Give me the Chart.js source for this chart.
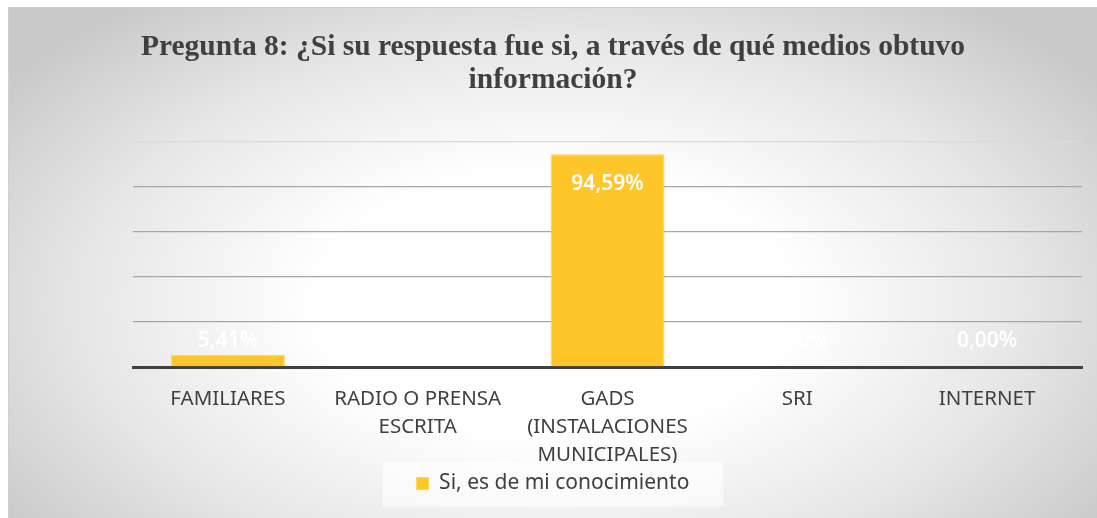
<!DOCTYPE html>
<html>
<head>
<meta charset="utf-8">
<script src="https://cdn.jsdelivr.net/npm/chart.js@4"></script>
<style>
  html, body { margin: 0; padding: 0; background: #fff; }
  #box {
    position: absolute; left: 8px; top: 7px; width: 1088px; height: 510px;
    border: 1px solid #cfcfcf;
    background: radial-gradient(ellipse 62% 75% at 50% 58%, #ffffff 35%, #e6e6e6 70%, #c9c9c9 100%);
  }
</style>
</head>
<body>
<div id="box"><canvas id="chart"></canvas></div>
<script>
  const categories = [
    'FAMILIARES',
    ['RADIO O PRENSA', 'ESCRITA'],
    ['GADS', '(INSTALACIONES', 'MUNICIPALES)'],
    'SRI',
    'INTERNET'
  ];
  const values = [5.41, 0, 94.59, 0, 0];
  const seriesName = 'Si, es de mi conocimiento';
  const titleLines = ['Pregunta 8: ¿Si su respuesta fue si, a través de qué medios obtuvo', 'información?'];

  const barColor = '#FFC629';
  const textFont = "'Noto Sans', sans-serif";

  // labels like Excel: inside end, or above when the bar is short
  const barLabels = {
    id: 'barLabels',
    afterDatasetsDraw(chart) {
      const ctx = chart.ctx;
      const meta = chart.getDatasetMeta(0);
      const base = chart.scales.y.getPixelForValue(0);
      ctx.save();
      ctx.fillStyle = '#ffffff';
      ctx.font = '600 21px ' + textFont;
      ctx.textAlign = 'center';
      ctx.textBaseline = 'middle';
      meta.data.forEach((bar, i) => {
        const y = Math.min(bar.y + 30, base - 26);
        ctx.fillText(values[i].toFixed(2).replace('.', ',') + '%', bar.x, y);
      });
      ctx.restore();
    }
  };

  const legendBack = {
    id: 'legendBack',
    beforeDraw(chart) {
      const lg = chart.legend;
      if (!lg || !lg.legendHitBoxes.length) return;
      const hb = lg.legendHitBoxes[0];
      const cy = hb.top + hb.height / 2;
      const ctx = chart.ctx;
      ctx.save();
      ctx.fillStyle = 'rgba(255,255,255,0.6)';
      ctx.fillRect(hb.left - 34, cy - 22, hb.width + 68, 45);
      ctx.restore();
    }
  };

  new Chart(document.getElementById('chart'), {
    type: 'bar',
    data: {
      labels: categories,
      datasets: [{
        label: seriesName,
        data: values,
        backgroundColor: barColor,
        borderColor: '#FFD55A',
        borderWidth: 1,
        barPercentage: 0.6,
        categoryPercentage: 1
      }]
    },
    options: {
      responsive: true,
      maintainAspectRatio: false,
      animation: false,
      layout: { padding: { left: 0, right: 0, top: 0, bottom: 14 } },
      scales: {
        x: {
          grid: { display: false },
          border: { display: true, color: '#404040', width: 3 },
          ticks: {
            color: '#404040',
            font: { family: textFont, size: 20.5, lineHeight: 1.37 },
            padding: 10,
            maxRotation: 0,
            autoSkip: false
          },
          afterFit: s => { s.height = 96; }
        },
        y: {
          min: 0,
          max: 100,
          ticks: { display: false, stepSize: 20 },
          border: { display: false },
          grid: {
            drawTicks: false,
            color: ctx => ctx.tick.value === 100 ? '#dadada' : '#a6a6a6',
            lineWidth: 1.3
          },
          afterFit: s => { s.width = 124; }
        },
        yRight: {
          position: 'right',
          ticks: { display: false },
          border: { display: false },
          grid: { display: false, drawTicks: false },
          afterFit: s => { s.width = 15; }
        }
      },
      plugins: {
        title: {
          display: true,
          text: titleLines,
          color: '#404040',
          font: { family: "'Liberation Serif', 'Times New Roman', serif", size: 29.5, weight: 'bold', lineHeight: 1.12 },
          padding: { top: 23, bottom: 45 }
        },
        legend: {
          position: 'bottom',
          labels: {
            color: '#404040',
            boxWidth: 12,
            boxHeight: 12,
            padding: 10,
            font: { family: textFont, size: 21 }
          }
        },
        tooltip: { enabled: false }
      }
    },
    plugins: [barLabels, legendBack]
  });
</script>
</body>
</html>
